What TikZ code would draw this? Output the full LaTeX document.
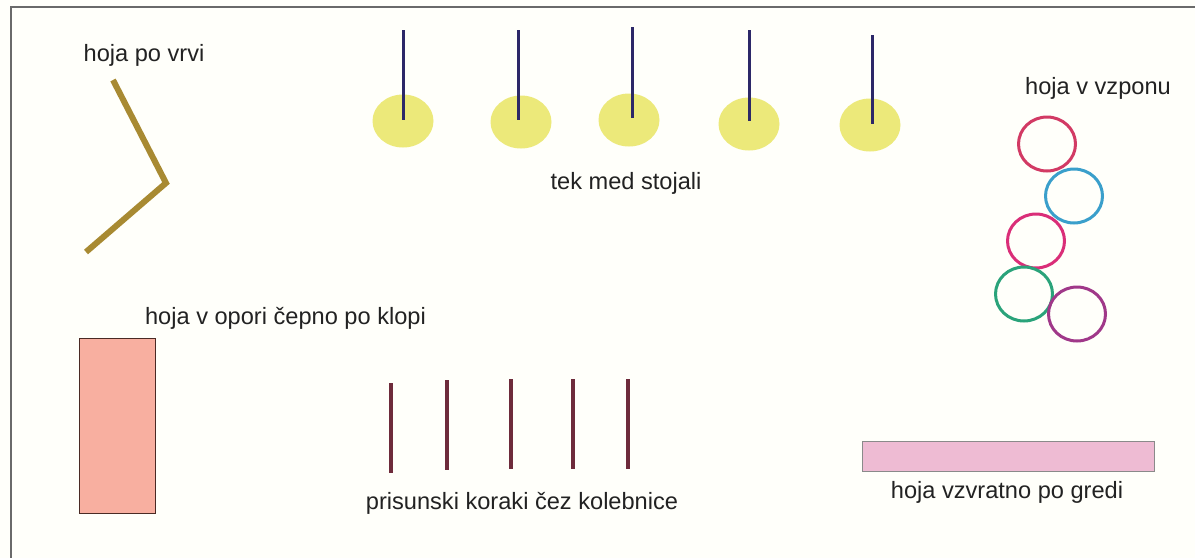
\documentclass[tikz,border=0pt]{standalone}
\usepackage{fontspec}
\setmainfont{Liberation Sans}
\definecolor{txt}{HTML}{222222}
\definecolor{frame}{HTML}{6A6A6A}
\definecolor{rope}{HTML}{A88A32}
\definecolor{stand}{HTML}{ECE97A}
\definecolor{pole}{HTML}{2C2868}
\definecolor{hoopA}{HTML}{D23A64}
\definecolor{hoopB}{HTML}{3A9FCB}
\definecolor{hoopC}{HTML}{DA2E78}
\definecolor{hoopD}{HTML}{2AA37A}
\definecolor{hoopE}{HTML}{A03889}
\definecolor{bench}{HTML}{F8AFA0}
\definecolor{benchedge}{HTML}{4A2A24}
\definecolor{rung}{HTML}{6E2B3B}
\definecolor{beam}{HTML}{EEBBD3}
\definecolor{beamedge}{HTML}{8A8A8A}
\tikzset{
  lbl/.style={text=txt, font=\fontsize{23.6}{28}\selectfont, inner sep=0pt},
  standdisc/.style={fill=stand, draw=none, ellipse},
  polestick/.style={draw=pole, line width=3pt},
  hoop/.style={line width=3pt},
  rungbar/.style={draw=rung, line width=4pt},
}
\usetikzlibrary{shapes.geometric}
\begin{document}
\begin{tikzpicture}[x=1pt,y=-1pt]
\useasboundingbox (0,0) rectangle (1195,558);
\fill[white!98!yellow] (0,0) rectangle (1195,558);
% outer frame
\coordinate (ftr) at (1195,7);
\coordinate (fc) at (11,7);
\coordinate (fbl) at (11,558);
\draw[frame, line width=2pt] (ftr) -- (fc) -- (fbl);

% rope walk
\node[lbl] (tRope) at (144,55) {hoja po vrvi};
\coordinate (r1) at (113,80);
\coordinate (r2) at (166,183);
\coordinate (r3) at (86,252);
\draw[rope, line width=6pt] (r1) -- (r2) -- (r3);

% stands with poles
\foreach \i/\cx/\cy/\px/\pt/\pb in {1/403/121/403/30/120, 2/521/122/518/30/120, 3/629/120/632/27/118, 4/749/124/749/30/121, 5/870/125/872/35/124}{
  \node[standdisc, minimum width=61pt, minimum height=53pt] (s\i) at (\cx,\cy) {};
  \coordinate (pt\i) at (\px,\pt);
  \coordinate (pb\i) at (\px,\pb);
  \draw[polestick] (pt\i) -- (pb\i);
}
\node[lbl] (tStands) at (626,183) {tek med stojali};

% hoops
\node[lbl] (tHoops) at (1098,88) {hoja v vzponu};
\draw[hoop, hoopA] (1047,144) ellipse (28.5pt and 27pt);
\draw[hoop, hoopB] (1074,196) ellipse (28.5pt and 27pt);
\draw[hoop, hoopC] (1036,241) ellipse (28.5pt and 27pt);
\draw[hoop, hoopD] (1024,294) ellipse (28.5pt and 27pt);
\draw[hoop, hoopE] (1077,314) ellipse (28.5pt and 27pt);

% bench
\node[lbl] (tBench) at (285.5,318) {hoja v opori čepno po klopi};
\node[draw=benchedge, fill=bench, line width=1pt, minimum width=76pt, minimum height=175pt, inner sep=0pt] (benchbox) at (117,425.5) {};

% rungs
\foreach \i/\rx/\rt/\rb in {1/391/383/473, 2/447/380/470, 3/511/379/469, 4/573/379/469, 5/628/379/469}{
  \coordinate (ra\i) at (\rx,\rt);
  \coordinate (rb\i) at (\rx,\rb);
  \draw[rungbar] (ra\i) -- (rb\i);
}
\node[lbl] (tRungs) at (522,503) {prisunski koraki čez kolebnice};

% beam
\node[draw=beamedge, fill=beam, line width=1pt, minimum width=292pt, minimum height=30pt, inner sep=0pt] (beambox) at (1008,456) {};
\node[lbl] (tBeam) at (1007,492) {hoja vzvratno po gredi};
\end{tikzpicture}
\end{document}
